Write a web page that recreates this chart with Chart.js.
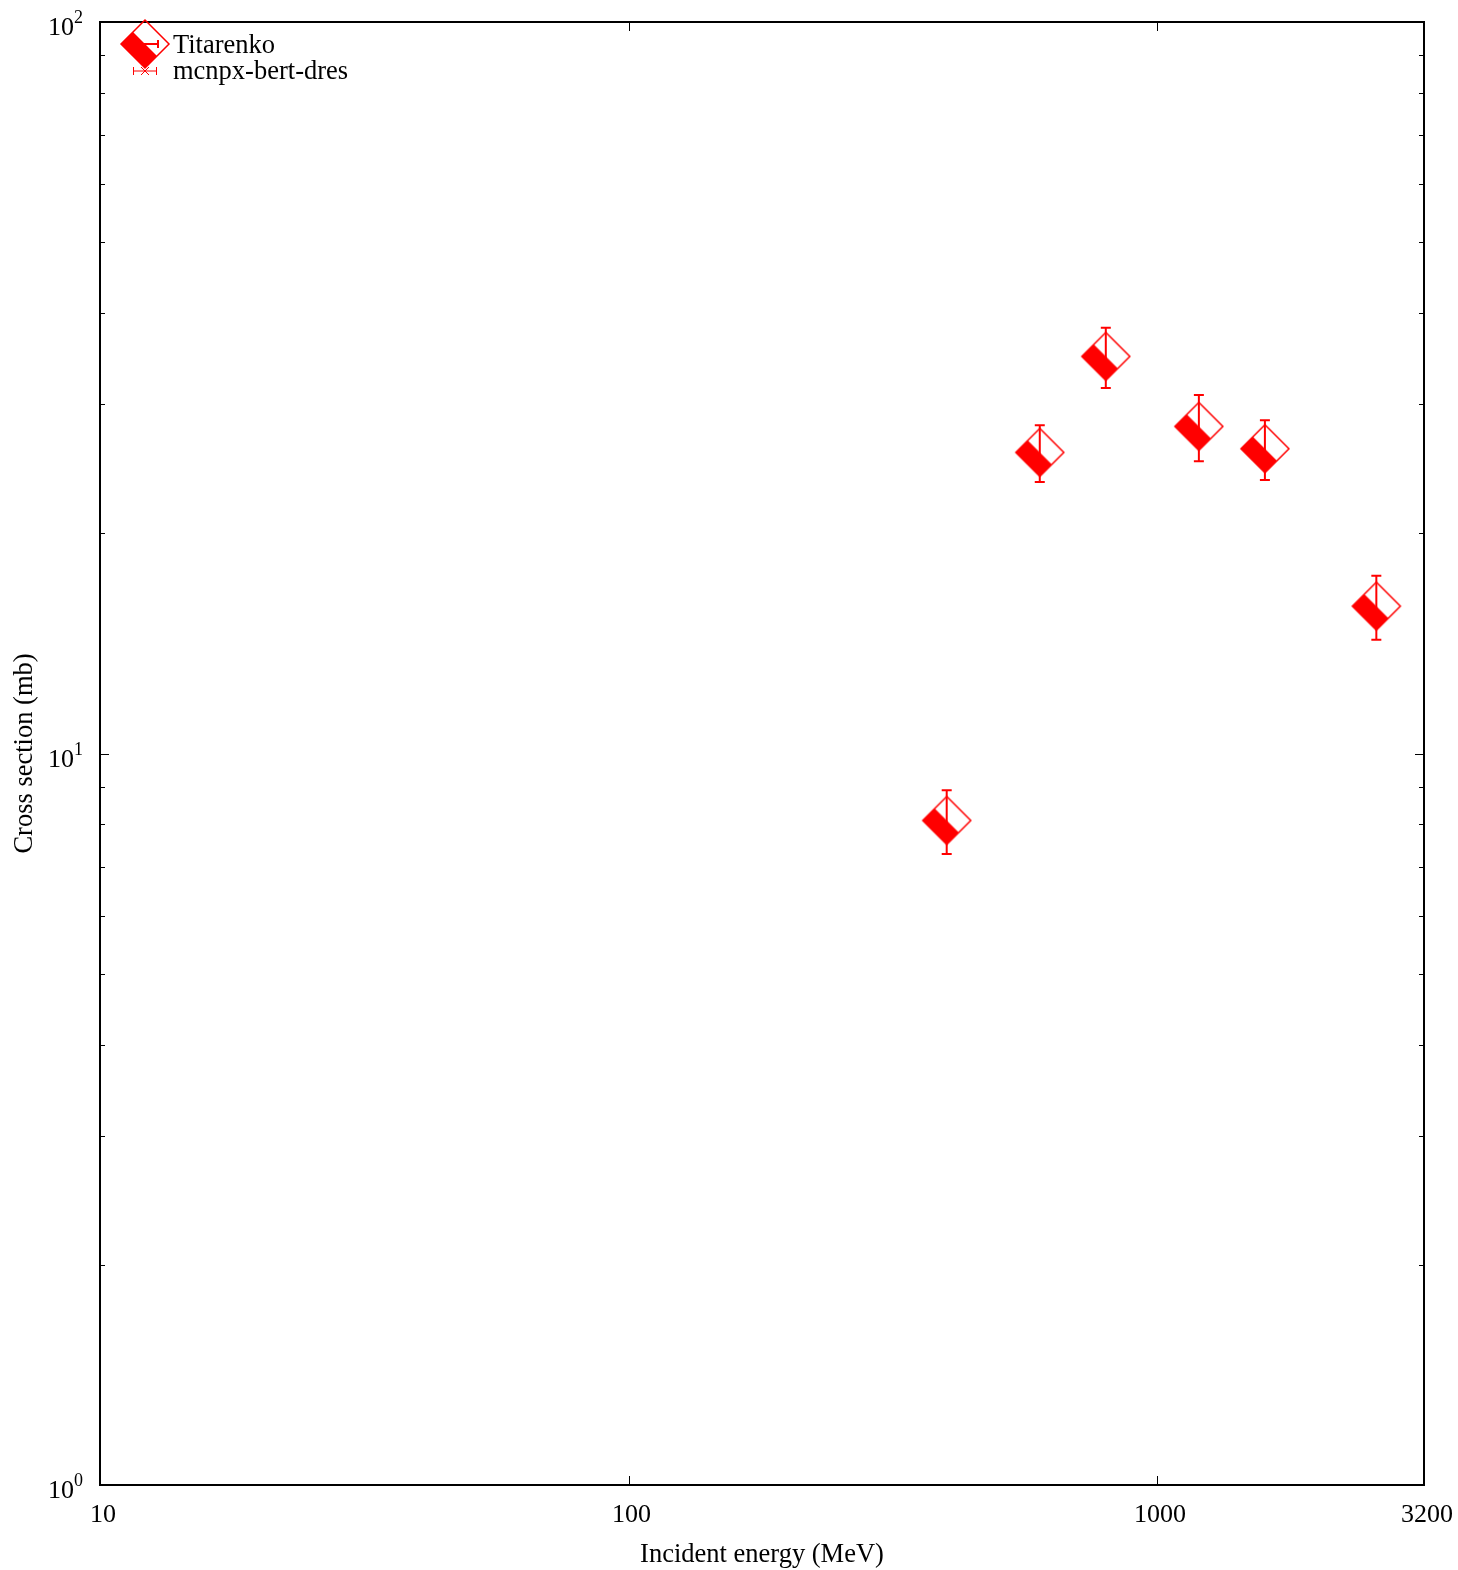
<!DOCTYPE html>
<html>
<head>
<meta charset="utf-8">
<script src="https://cdn.jsdelivr.net/npm/chart.js@4/dist/chart.umd.min.js"></script>
<style>
  body { margin: 0; background: #fff; }
  canvas { display: block; }
</style>
</head>
<body>
<canvas id="myChart" width="1458" height="1570"></canvas>
<script>
// Titarenko data: energy (MeV), cross section (mb), error (mb)
const energies = [400, 600, 800, 1200, 1600, 2600];
const crossSections = [8.1, 25.8, 34.9, 28.0, 26.1, 15.9];
const errors = [0.81, 2.3, 3.3, 2.9, 2.45, 1.6];
// mcnpx-bert-dres has no points in range
const mcnpxEnergies = [];
const mcnpxValues = [];

const xTicks = [10, 100, 1000, 3200];
const xMajorTicks = [100, 1000];
const yMajorTicks = [1, 10, 100];
const yTickExp = ["0", "1", "2"];

const RED = "#ff0000";
const FONT = "Liberation Serif, Times New Roman, serif";

function makeDiamond() {
  const c = document.createElement("canvas");
  c.width = 52;
  c.height = 52;
  const g = c.getContext("2d");
  const cx = 26, cy = 26, h = 24;
  // lower-left half filled
  g.fillStyle = RED;
  g.beginPath();
  g.moveTo(cx - h, cy);
  g.lineTo(cx - h / 2, cy - h / 2);
  g.lineTo(cx + h / 2, cy + h / 2);
  g.lineTo(cx, cy + h);
  g.closePath();
  g.fill();
  g.strokeStyle = RED;
  g.lineWidth = 1.5;
  g.beginPath();
  g.moveTo(cx, cy - h);
  g.lineTo(cx + h, cy);
  g.lineTo(cx, cy + h);
  g.lineTo(cx - h, cy);
  g.closePath();
  g.stroke();
  return c;
}

const diamond = makeDiamond();

const errorBars = {
  id: "errorBars",
  beforeDatasetsDraw(chart) {
    const ctx = chart.ctx;
    const x = chart.scales.x, y = chart.scales.y;
    ctx.save();
    ctx.strokeStyle = RED;
    ctx.lineWidth = 2;
    energies.forEach((e, i) => {
      const px = x.getPixelForValue(e);
      const top = y.getPixelForValue(crossSections[i] + errors[i]);
      const bot = y.getPixelForValue(crossSections[i] - errors[i]);
      ctx.beginPath();
      ctx.moveTo(px, top);
      ctx.lineTo(px, bot);
      ctx.moveTo(px - 5, top);
      ctx.lineTo(px + 5, top);
      ctx.moveTo(px - 5, bot);
      ctx.lineTo(px + 5, bot);
      ctx.stroke();
    });
    ctx.restore();
  },
};

const frame = {
  id: "frame",
  afterDraw(chart) {
    const ctx = chart.ctx;
    const a = chart.chartArea;
    const x = chart.scales.x, y = chart.scales.y;
    ctx.save();
    ctx.strokeStyle = "#000";
    ctx.lineWidth = 2;
    ctx.strokeRect(a.left, a.top, a.right - a.left, a.bottom - a.top);

    // x ticks (inward, bottom and top)
    ctx.lineWidth = 1;
    ctx.beginPath();
    xMajorTicks.forEach((v) => {
      const px = Math.round(x.getPixelForValue(v)) + 0.5;
      ctx.moveTo(px, a.bottom);
      ctx.lineTo(px, a.bottom - 9);
      ctx.moveTo(px, a.top);
      ctx.lineTo(px, a.top + 9);
    });
    // y ticks, major and minor, both sides
    for (let d = 1; d < 100; d *= 10) {
      for (let m = 1; m <= 10; m++) {
        const v = d * m;
        const py = Math.round(y.getPixelForValue(v)) + 0.5;
        const len = m === 1 || m === 10 ? 9 : 5;
        ctx.moveTo(a.left, py);
        ctx.lineTo(a.left + len, py);
        ctx.moveTo(a.right, py);
        ctx.lineTo(a.right - len, py);
      }
    }
    ctx.stroke();

    // tick labels
    ctx.fillStyle = "#000";
    ctx.font = "26px " + FONT;
    ctx.textAlign = "center";
    ctx.textBaseline = "alphabetic";
    xTicks.forEach((v) => {
      ctx.fillText(String(v), x.getPixelForValue(v) + 3, a.bottom + 37);
    });

    yMajorTicks.forEach((v, i) => {
      const py = y.getPixelForValue(v) + 13;
      ctx.font = "18px " + FONT;
      ctx.textAlign = "right";
      ctx.fillText(yTickExp[i], 83, py - 12);
      const w = ctx.measureText(yTickExp[i]).width;
      ctx.font = "26px " + FONT;
      ctx.fillText("10", 83 - w, py);
    });

    // axis titles
    ctx.textAlign = "center";
    ctx.font = "26.5px " + FONT;
    ctx.fillText("Incident energy (MeV)", (a.left + a.right) / 2, a.bottom + 77);
    ctx.save();
    ctx.translate(32, (a.top + a.bottom) / 2);
    ctx.rotate(-Math.PI / 2);
    ctx.fillText("Cross section (mb)", 0, 0);
    ctx.restore();

    // legend
    ctx.textAlign = "left";
    ctx.fillText(chart.data.datasets[0].label, 173, 53);
    ctx.fillText(chart.data.datasets[1].label, 173, 79);

    ctx.strokeStyle = RED;
    ctx.lineWidth = 2;
    ctx.beginPath();
    ctx.moveTo(132, 44);
    ctx.lineTo(158, 44);
    ctx.moveTo(158, 40);
    ctx.lineTo(158, 48);
    ctx.stroke();
    ctx.drawImage(diamond, 145 - 26, 44 - 26);

    ctx.lineWidth = 1;
    ctx.beginPath();
    ctx.moveTo(133, 71);
    ctx.lineTo(157, 71);
    ctx.moveTo(133.5, 67);
    ctx.lineTo(133.5, 75);
    ctx.moveTo(156.5, 67);
    ctx.lineTo(156.5, 75);
    ctx.moveTo(141, 67);
    ctx.lineTo(149, 75);
    ctx.moveTo(149, 67);
    ctx.lineTo(141, 75);
    ctx.stroke();
    ctx.restore();
  },
};

function renderChart() {
  const ctx = document.getElementById("myChart");
  new Chart(ctx, {
    type: "scatter",
    data: {
      datasets: [
        {
          label: "Titarenko",
          data: energies.map((e, i) => ({ x: e, y: crossSections[i] })),
          pointStyle: diamond,
          pointRadius: 26,
          borderColor: RED,
          backgroundColor: RED,
        },
        {
          label: "mcnpx-bert-dres",
          data: mcnpxEnergies.map((e, i) => ({ x: e, y: mcnpxValues[i] })),
          pointStyle: "crossRot",
          borderColor: RED,
        },
      ],
    },
    options: {
      responsive: false,
      devicePixelRatio: 1,
      animation: false,
      layout: {
        autoPadding: false,
        padding: { left: 100, right: 34, top: 22, bottom: 85 },
      },
      scales: {
        x: { type: "logarithmic", min: 10, max: 3200, display: false },
        y: { type: "logarithmic", min: 1, max: 100, display: false },
      },
      plugins: {
        legend: { display: false },
        tooltip: { enabled: false },
      },
    },
    plugins: [errorBars, frame],
  });
}

window.onload = renderChart;
</script>
</body>
</html>
